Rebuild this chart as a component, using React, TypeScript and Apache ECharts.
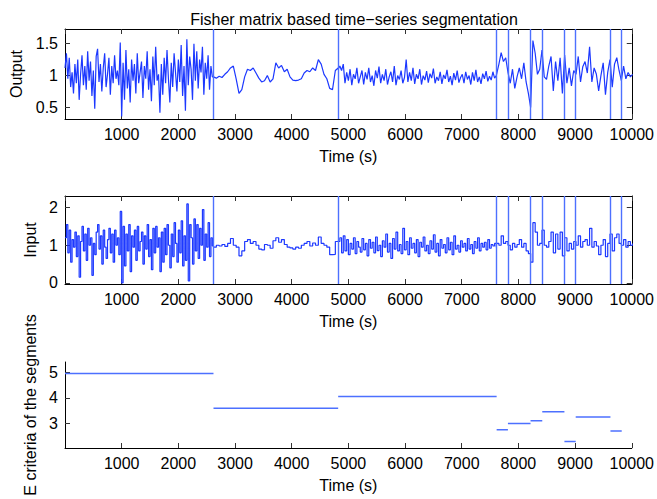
import React, { useEffect, useRef } from "react";
import * as echarts from "echarts";

// Segment boundaries (s) and the criterion value of each segment
const boundaries = [0, 2620, 4820, 7616, 7815, 8214, 8421, 8812, 9011, 9624, 9823];
const criteria = [4.97, 3.59, 4.06, 2.74, 2.99, 3.1, 3.45, 2.28, 3.25, 2.69];

// Sampling grid of each stretch of the signals
const segmentStarts = [0, 2620, 4820, 7616];
const segmentSteps = [25, 50, 30, 40];

// Output signal, stretch by stretch
const output1 = [
  1.12, 1.35, 0.95, 1.28, 0.82, 1.05, 0.72, 1.18, 0.88, 1.25,
  0.62, 1.02, 1.32, 0.85, 1.15, 0.78, 1.38, 0.92, 1.22, 0.68,
  1.08, 0.48, 1.3, 1.42, 0.9, 1.18, 0.75, 1.12, 1.35, 0.82,
  1.02, 1.28, 0.7, 1.15, 0.88, 1.32, 0.95, 1.08, 0.85, 1.52,
  0.36, 1.2, 0.62, 1.4, 0.8, 1.1, 0.58, 1.25, 0.92, 1.18,
  0.72, 1.35, 0.88, 1.05, 1.22, 0.65, 1.15, 0.95, 1.38, 0.78,
  1.1, 0.6, 1.3, 0.85, 1.45, 0.92, 1.02, 0.42, 1.18, 0.7,
  1.28, 0.88, 1.4, 0.95, 0.58, 1.2, 0.82, 1.35, 1.05, 0.75,
  1.25, 0.9, 1.48, 0.68, 1.15, 0.45, 1.57, 0.85, 1.3, 1.1,
  0.62, 1.5, 0.92, 1.38, 0.8, 1.25, 1.05, 1.45, 0.7, 1.2,
  0.95, 1.32, 0.78, 1.15, 0.98,
];
const output2 = [
  0.98, 0.96, 0.99, 0.97, 1.02, 1.06, 1.12, 1.15, 0.95, 0.72,
  0.78, 0.98, 1.1, 1.08, 1.12, 1.04, 0.96, 0.9, 0.92, 1.0,
  0.9, 0.95, 1.2, 1.12, 1.16, 1.06, 1.1, 0.98, 0.93, 0.92,
  0.93, 0.95, 1.04, 1.08, 1.06, 1.12, 1.08, 1.25, 1.18, 1.02,
  0.95, 0.8, 0.78, 1.08, 1.12,
];
const output3 = [
  1.1, 1.15, 1.08, 1.18, 0.88, 1.05, 0.92, 1.1, 0.85, 1.02,
  0.95, 1.12, 0.88, 0.98, 1.08, 0.86, 1.05, 0.94, 1.12, 0.9,
  1.0, 0.84, 1.08, 0.96, 1.14, 0.88, 1.02, 0.92, 1.1, 0.86,
  0.98, 1.06, 0.9, 1.15, 0.85, 1.0, 0.94, 1.08, 0.88, 0.97,
  1.25, 0.9, 1.05, 0.92, 1.12, 0.87, 1.02, 0.95, 1.1, 0.86,
  1.0, 0.93, 1.07, 0.89, 1.03, 0.96, 1.11, 0.88, 0.98, 0.92,
  1.06, 0.87, 1.01, 0.95, 1.09, 0.9, 0.99, 0.85, 1.04, 0.93,
  1.08, 0.89, 0.97, 1.02, 0.88, 1.06, 0.94, 1.0, 0.86, 1.05,
  0.92, 1.09, 0.9, 0.98, 0.87, 1.03, 0.95, 1.07, 0.91, 0.99,
  0.93, 1.06, 0.96, 1.0,
];
const output4 = [
  1.0, 1.18, 1.36, 1.22, 1.28, 1.05, 0.88, 1.1, 0.8, 0.98,
  1.12, 0.95, 1.2, 0.9, 0.72, 0.5, 1.55, 1.35, 1.02, 1.1,
  1.4, 0.98, 0.94, 1.15, 1.3, 0.76, 1.22, 0.92, 1.28, 0.72,
  1.32, 0.88, 1.12, 0.84, 1.08, 1.02, 1.3, 0.9, 1.14, 1.22,
  1.04, 1.45, 0.9, 1.12, 1.02, 0.76, 1.0, 1.2, 0.7, 1.05,
  1.25, 0.82, 1.18, 1.28, 1.08, 0.92, 1.15, 0.95, 1.05, 0.98,
  1.02,
];

// Input signal, stretch by stretch
const input1 = [
  1.2, 1.55, 0.8, 1.4, 0.55, 1.15, 0.95, 1.35, 0.7, 1.25,
  0.15, 1.1, 1.5, 0.85, 1.3, 0.6, 1.45, 1.0, 1.2, 0.2,
  1.05, 0.75, 1.35, 1.55, 0.9, 1.25, 0.5, 1.4, 0.95, 0.65,
  1.15, 1.45, 0.8, 1.3, 0.55, 1.4, 1.0, 1.2, 0.75, 1.9,
  0.0, 1.5, 0.45, 1.3, 0.85, 1.55, 0.3, 1.25, 0.95, 1.4,
  0.6, 1.5, 0.85, 1.1, 1.35, 0.5, 1.25, 0.9, 1.55, 0.7,
  1.15, 0.35, 1.45, 0.8, 1.5, 0.95, 1.2, 0.3, 1.35, 0.55,
  1.45, 0.75, 1.55, 1.0, 0.4, 1.3, 0.7, 1.6, 1.05, 0.55,
  1.4, 0.8, 1.65, 0.45, 1.25, 0.6, 2.1, 0.05, 1.55, 1.2,
  0.5, 1.7, 0.85, 1.55, 0.65, 1.45, 1.0, 1.95, 0.6, 1.3,
  0.95, 1.6, 0.7, 1.2, 0.98,
];
const input2 = [
  0.95, 1.0, 0.98, 1.02, 0.97, 1.05, 1.18, 1.0, 0.95, 0.72,
  0.85, 1.1, 1.15, 1.05, 1.1, 1.0, 0.9, 0.88, 1.02, 1.0,
  0.92, 1.12, 1.2, 1.08, 1.15, 1.02, 0.95, 0.93, 0.9, 0.95,
  0.92, 1.0, 1.05, 1.1, 0.98, 1.06, 1.0, 1.22, 1.05, 1.0,
  0.95, 0.75, 0.76, 1.1, 1.12,
];
const input3 = [
  1.1, 1.2, 0.8, 1.25, 0.85, 1.15, 0.75, 1.05, 0.9, 1.2,
  0.78, 1.1, 0.95, 0.82, 1.18, 0.88, 1.05, 0.72, 1.15, 0.92,
  1.08, 0.8, 1.22, 0.86, 1.0, 0.7, 1.12, 0.95, 1.3, 0.82,
  1.05, 0.65, 1.18, 0.9, 1.35, 0.85, 1.02, 0.78, 1.45, 0.88,
  1.1, 0.75, 1.2, 0.92, 1.05, 0.8, 1.15, 0.7, 1.08, 0.95,
  1.22, 0.85, 1.0, 0.78, 1.12, 0.9, 1.28, 0.82, 1.05, 0.72,
  1.15, 0.92, 1.02, 0.8, 1.2, 0.88, 1.08, 0.75, 1.25, 0.9,
  1.0, 0.82, 1.12, 0.95, 1.05, 0.85, 1.18, 0.9, 1.02, 0.78,
  1.1, 0.92, 1.2, 0.85, 1.05, 0.95, 1.08, 0.88, 1.15, 0.92,
  1.02, 0.98, 1.05, 0.95,
];
const input4 = [
  1.05, 1.0, 1.25, 1.05, 1.1, 1.0, 0.88, 1.05, 0.95, 1.02,
  1.15, 0.95, 1.05, 0.85, 0.78, 0.55, 1.6, 1.35, 1.0, 1.05,
  1.4, 1.0, 0.95, 1.1, 1.35, 0.8, 1.3, 0.9, 1.35, 0.72,
  1.2, 0.85, 1.05, 0.9, 1.1, 1.0, 1.25, 0.95, 1.1, 1.15,
  1.0, 1.45, 0.95, 1.1, 0.98, 0.75, 1.0, 1.15, 0.7, 1.05,
  1.3, 0.85, 1.2, 1.3, 1.05, 1.0, 1.15, 0.95, 1.1, 1.0,
  1.05,
];

// Tick labels
const outputTicks = [0.5, 1, 1.5];
const inputTicks = [0, 1, 2];
const criteriaTicks = [3, 4, 5];

const FONT = "'Liberation Sans', Arial, Helvetica, sans-serif";
const DATA_COLOR = "#1c38ff";
const SEG_COLOR = "#4d70ff";

function buildSignal(segs: number[][]) {
  const out: number[][] = [];
  segs.forEach((vals, k) => {
    vals.forEach((v, i) => out.push([segmentStarts[k] + i * segmentSteps[k], v]));
  });
  return out;
}

function buildCriteria() {
  const out: any[] = [];
  criteria.forEach((c, i) => {
    out.push([boundaries[i], c]);
    out.push([boundaries[i + 1], c]);
    out.push([boundaries[i + 1], "-"]);
  });
  return out;
}

const textStyle = { color: "#000", fontSize: 16, fontFamily: FONT };

function xAxisMain(gridIndex: number) {
  return {
    type: "value",
    gridIndex,
    min: 0,
    max: 10000,
    interval: 1000,
    position: "bottom",
    axisLine: { show: true, onZero: false, lineStyle: { color: "#000", width: 1 } },
    axisTick: { show: true, inside: true, length: 5, lineStyle: { color: "#333" } },
    axisLabel: { ...textStyle, showMinLabel: false, margin: 7, formatter: (v: number) => String(v) },
    splitLine: { show: false },
    name: "Time (s)",
    nameLocation: "middle",
    nameGap: 29,
    nameTextStyle: textStyle,
  };
}

function xAxisTop(gridIndex: number) {
  return {
    type: "value",
    gridIndex,
    min: 0,
    max: 10000,
    interval: 1000,
    position: "top",
    axisLine: { show: true, onZero: false, lineStyle: { color: "#000", width: 1 } },
    axisTick: { show: true, inside: true, length: 5, lineStyle: { color: "#333" } },
    axisLabel: { show: false },
    splitLine: { show: false },
  };
}

function yAxisMain(gridIndex: number, min: number, max: number, ticks: number[], name: string, nameGap: number) {
  return {
    type: "value",
    gridIndex,
    min,
    max,
    position: "left",
    axisLine: { show: true, onZero: false, lineStyle: { color: "#000", width: 1 } },
    axisTick: { show: true, inside: true, length: 5, customValues: ticks, lineStyle: { color: "#333" } },
    axisLabel: { ...textStyle, margin: 7, customValues: ticks },
    splitLine: { show: false },
    name,
    nameLocation: "middle",
    nameGap,
    nameTextStyle: textStyle,
  };
}

function yAxisRight(gridIndex: number, min: number, max: number, ticks: number[]) {
  return {
    type: "value",
    gridIndex,
    min,
    max,
    position: "right",
    axisLine: { show: true, onZero: false, lineStyle: { color: "#000", width: 1 } },
    axisTick: { show: true, inside: true, length: 5, customValues: ticks, lineStyle: { color: "#333" } },
    axisLabel: { show: false },
    splitLine: { show: false },
  };
}

export default function App() {
  const ref = useRef<HTMLDivElement>(null);

  useEffect(() => {
    if (!ref.current) return;
    const chart = echarts.init(ref.current, undefined, { renderer: "svg" });

    const vlines = {
      silent: true,
      symbol: ["none", "none"],
      label: { show: false },
      lineStyle: { type: "solid", color: SEG_COLOR, width: 1.4 },
      data: boundaries.slice(1).map((b) => ({ xAxis: b })),
    };

    const option: any = {
      animation: false,
      backgroundColor: "#fff",
      title: {
        text: "Fisher matrix based time\u2212series segmentation",
        left: 349,
        top: 6,
        textAlign: "center",
        textStyle: { ...textStyle, fontWeight: "normal" },
      },
      grid: [
        { left: 65, top: 29, width: 568, height: 90 },
        { left: 65, top: 196, width: 568, height: 88 },
        { left: 65, top: 362, width: 568, height: 86 },
      ],
      xAxis: [xAxisMain(0), xAxisTop(0), xAxisMain(1), xAxisTop(1), xAxisMain(2)],
      yAxis: [
        yAxisMain(0, 0.32, 1.73, outputTicks, "Output", 36),
        yAxisRight(0, 0.32, 1.73, outputTicks),
        yAxisMain(1, -0.03, 2.31, inputTicks, "Input", 24),
        yAxisRight(1, -0.03, 2.31, inputTicks),
        yAxisMain(2, 2.02, 5.42, criteriaTicks, "E criteria of the segments", 23),
      ],
      series: [
        {
          type: "line",
          xAxisIndex: 0,
          yAxisIndex: 0,
          data: buildSignal([output1, output2, output3, output4]),
          showSymbol: false,
          lineStyle: { color: DATA_COLOR, width: 1.2 },
          itemStyle: { color: DATA_COLOR },
          markLine: vlines,
        },
        {
          type: "line",
          xAxisIndex: 2,
          yAxisIndex: 2,
          step: "end",
          data: buildSignal([input1, input2, input3, input4]),
          showSymbol: false,
          lineStyle: { color: DATA_COLOR, width: 1.2 },
          itemStyle: { color: DATA_COLOR },
          markLine: vlines,
        },
        {
          type: "line",
          xAxisIndex: 4,
          yAxisIndex: 4,
          data: buildCriteria(),
          showSymbol: false,
          connectNulls: false,
          lineStyle: { color: SEG_COLOR, width: 1.5 },
          itemStyle: { color: SEG_COLOR },
        },
      ],
    };

    chart.setOption(option);
    return () => chart.dispose();
  }, []);

  return (
    <div
      ref={ref}
      style={{ position: "fixed", left: 0, top: 0, width: 657, height: 499, background: "#fff" }}
    />
  );
}
